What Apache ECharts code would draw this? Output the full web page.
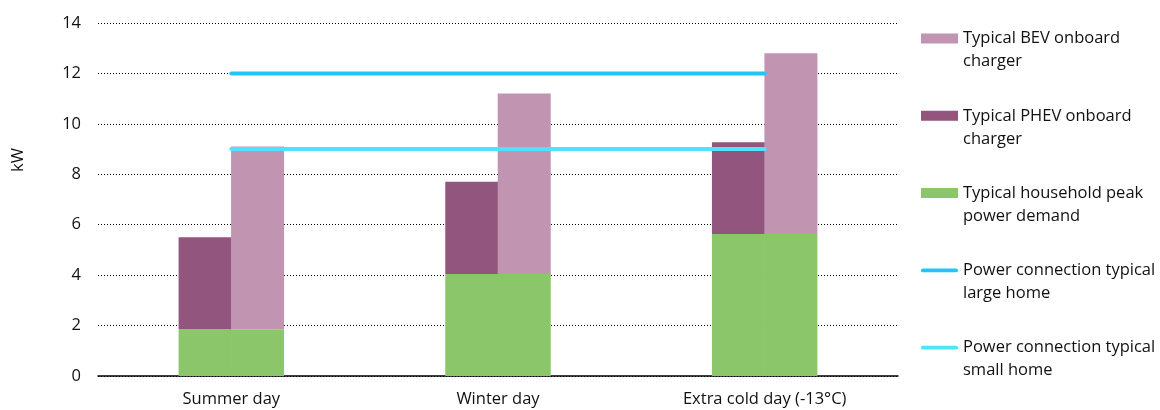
<!DOCTYPE html>
<html>
<head>
<meta charset="utf-8">
<script src="https://cdn.jsdelivr.net/npm/echarts@6/dist/echarts.min.js"></script>
<style>html,body{margin:0;padding:0;background:#fff}#c{width:1160px;height:410px}</style>
</head>
<body>
<div id="c"></div>
<script>
const categories = ['Summer day', 'Winter day', 'Extra cold day (-13°C)'];
const household = [1.85, 4.05, 5.63];
const phevCharger = [3.65, 3.65, 3.64];
const bevCharger = [7.25, 7.15, 7.17];
const largeHome = [12, 12, 12];
const smallHome = [9, 9, 9];
const yTicks = [0, 2, 4, 6, 8, 10, 12, 14];

const names = {
  bev: 'Typical BEV onboard charger',
  phev: 'Typical PHEV onboard charger',
  house: 'Typical household peak power demand',
  large: 'Power connection typical large home',
  small: 'Power connection typical small home'
};
const wrapped = {};
wrapped[names.bev] = ' \nTypical BEV onboard\ncharger';
wrapped[names.phev] = ' \nTypical PHEV onboard\ncharger';
wrapped[names.house] = ' \nTypical household peak\npower demand';
wrapped[names.large] = ' \nPower connection typical\nlarge home';
wrapped[names.small] = ' \nPower connection typical\nsmall home';

const LINE_ICON = 'path://M2,0 L38,0 A2,2 0 0 1 38,4 L2,4 A2,2 0 0 1 2,0 Z';
const FONT = 'Open Sans';
const FS = 16.5;
const chart = echarts.init(document.getElementById('c'));
chart.setOption({
  animation: false,
  textStyle: { fontFamily: FONT },
  grid: { left: 98, right: 262, top: 23, bottom: 34 },
  legend: {
    orient: 'vertical',
    left: 921,
    top: 4,
    padding: 0,
    itemGap: 8.3,
    itemWidth: 37,
    itemHeight: 10,
    data: [
      { name: names.bev, icon: 'rect' },
      { name: names.phev, icon: 'rect' },
      { name: names.house, icon: 'rect' },
      { name: names.large, icon: LINE_ICON },
      { name: names.small, icon: LINE_ICON }
    ],
    formatter: n => wrapped[n],
    textStyle: { fontFamily: FONT, fontSize: FS, color: '#111', lineHeight: 23 },
    selectedMode: false
  },
  xAxis: {
    type: 'category',
    data: categories,
    axisLine: { lineStyle: { color: '#000', width: 1.5 } },
    axisTick: { show: false },
    axisLabel: { color: '#111', fontSize: FS, margin: 15, fontFamily: FONT }
  },
  yAxis: {
    type: 'value',
    min: yTicks[0],
    max: yTicks[yTicks.length - 1],
    interval: 2,
    axisLine: { show: false },
    axisTick: { show: false },
    axisLabel: { color: '#111', fontSize: FS, margin: 17, fontFamily: FONT },
    splitLine: { lineStyle: { color: '#000', type: [1, 2], width: 1 } }
  },
  graphic: [{
    type: 'text', left: 10, top: 148, rotation: Math.PI / 2,
    style: { text: 'kW', fontSize: FS, fill: '#111', fontFamily: FONT }
  }],
  series: [
    { name: names.house, type: 'bar', stack: 'phev', barWidth: 53, barGap: '-1%', data: household,
      itemStyle: { color: '#8CC66A' } },
    { name: names.phev, type: 'bar', stack: 'phev', barWidth: 53, data: phevCharger,
      itemStyle: { color: '#92557D' } },
    { name: names.house, type: 'bar', stack: 'bev', barWidth: 53, data: household,
      itemStyle: { color: '#8CC66A' } },
    { name: names.bev, type: 'bar', stack: 'bev', barWidth: 53, data: bevCharger,
      itemStyle: { color: '#C194B2' } },
    { name: names.large, type: 'line', data: largeHome, symbol: 'none', z: 5,
      lineStyle: { color: '#22C4FA', width: 4, cap: 'round' }, itemStyle: { color: '#22C4FA' } },
    { name: names.small, type: 'line', data: smallHome, symbol: 'none', z: 5,
      lineStyle: { color: '#4DE3FB', width: 4, cap: 'round' }, itemStyle: { color: '#4DE3FB' } }
  ]
});
</script>
</body>
</html>
